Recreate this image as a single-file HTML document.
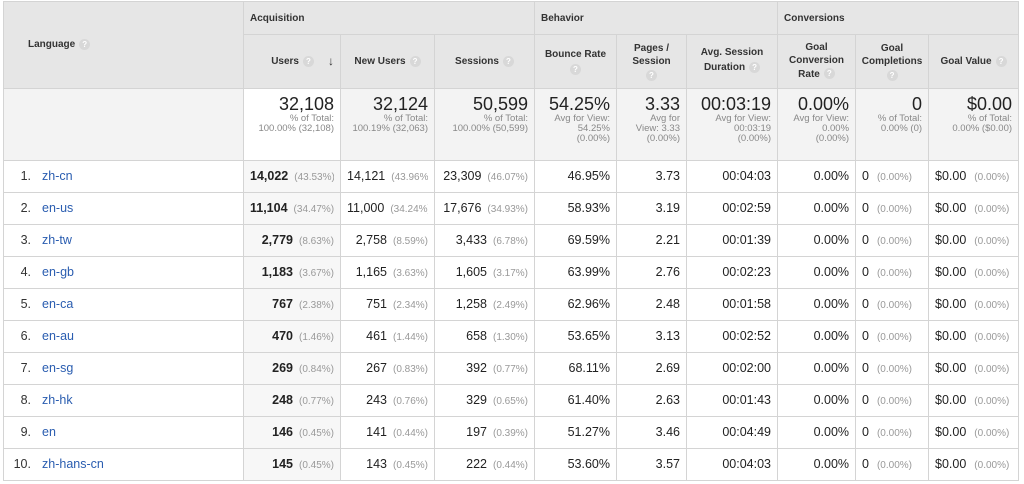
<!DOCTYPE html>
<html><head><meta charset="utf-8">
<style>
body{margin:0;width:1024px;height:484px;background:#fff;font-family:"Liberation Sans",Arial,sans-serif;color:#222;overflow:hidden}
table{position:absolute;left:3px;top:1px;border-collapse:collapse;table-layout:fixed;width:1016px}
td,th{border:1px solid #d4d4d4;padding:0 6px;font-size:12.5px;overflow:hidden;white-space:nowrap}
th{background:#e6e6e6;font-size:10px;font-weight:bold;color:#333}
.h1{height:32px;overflow:hidden;display:flex;align-items:center}
.h2{height:53px;overflow:hidden;display:flex;align-items:center;justify-content:center;text-align:center;white-space:normal;line-height:13px}
.q{display:inline-block;width:11px;height:11px;border-radius:50%;background:#d8d8d8;color:#fff;font-size:8px;line-height:11px;text-align:center;vertical-align:middle;margin-left:4px}
.tot{background:#f3f3f3;text-align:right;vertical-align:top}
.tot>div.w{height:71px;overflow:hidden;padding-top:5px;box-sizing:border-box}
.tot .big{font-size:18px;color:#222;line-height:20px}
.tot .sm{font-size:9.5px;color:#888;line-height:10px;white-space:normal}
.r td{text-align:right}
.r td>div{height:31px;line-height:31px;overflow:hidden}
.r td.lang{text-align:left;padding-left:0}
.num{display:inline-block;width:27px;text-align:right;color:#333}
.lk{color:#2a5db0;margin-left:11px}
.pc{color:#999;font-size:10px;margin-left:6px}
.uc{background:#f7f7f7}
.b{font-weight:bold}
</style></head><body>
<table>
<colgroup><col style="width:240px"><col style="width:97px"><col style="width:94px"><col style="width:100px"><col style="width:82px"><col style="width:70px"><col style="width:91px"><col style="width:78px"><col style="width:73px"><col style="width:90px"></colgroup>
<thead>
<tr>
<th rowspan="2" style="text-align:left;padding-left:24px">Language<span class="q">?</span></th>
<th colspan="3"><div class="h1">Acquisition</div></th>
<th colspan="3"><div class="h1">Behavior</div></th>
<th colspan="3"><div class="h1">Conversions</div></th>
</tr>
<tr>
<th><div class="h2" style="justify-content:flex-end">Users<span class="q">?</span><span style="margin-left:14px;font-size:12px">&#8595;</span></div></th>
<th><div class="h2">New Users<span class="q">?</span></div></th>
<th><div class="h2">Sessions<span class="q">?</span></div></th>
<th><div class="h2"><div>Bounce Rate<br><span class="q" style="margin:3px 0 0">?</span></div></div></th>
<th><div class="h2"><div>Pages /<br>Session<br><span class="q" style="margin:2px 0 0">?</span></div></div></th>
<th><div class="h2"><div>Avg. Session<br><span style="line-height:18px">Duration</span><span class="q">?</span></div></div></th>
<th><div class="h2"><div>Goal<br>Conversion<br><span style="line-height:16px">Rate</span><span class="q">?</span></div></div></th>
<th><div class="h2"><div>Goal<br>Completions<br><span class="q" style="margin:2px 0 0">?</span></div></div></th>
<th><div class="h2">Goal Value<span class="q">?</span></div></th>
</tr>
</thead>
<tbody id="tb">
<tr>
<td class="tot"><div class="w"></div></td>
<td class="tot" style="background:#fff"><div class="w"><div class="big">32,108</div><div class="sm">% of Total:<br>100.00% (32,108)</div></div></td>
<td class="tot"><div class="w"><div class="big">32,124</div><div class="sm">% of Total:<br>100.19% (32,063)</div></div></td>
<td class="tot"><div class="w"><div class="big">50,599</div><div class="sm">% of Total:<br>100.00% (50,599)</div></div></td>
<td class="tot"><div class="w"><div class="big">54.25%</div><div class="sm">Avg for View:<br>54.25%<br>(0.00%)</div></div></td>
<td class="tot"><div class="w"><div class="big">3.33</div><div class="sm">Avg for<br>View: 3.33<br>(0.00%)</div></div></td>
<td class="tot"><div class="w"><div class="big">00:03:19</div><div class="sm">Avg for View:<br>00:03:19<br>(0.00%)</div></div></td>
<td class="tot"><div class="w"><div class="big">0.00%</div><div class="sm">Avg for View:<br>0.00%<br>(0.00%)</div></div></td>
<td class="tot"><div class="w"><div class="big">0</div><div class="sm">% of Total:<br>0.00% (0)</div></div></td>
<td class="tot"><div class="w"><div class="big">$0.00</div><div class="sm">% of Total:<br>0.00% ($0.00)</div></div></td>
</tr>
</tbody>
</table>
<script>
const languages=["zh-cn","en-us","zh-tw","en-gb","en-ca","en-au","en-sg","zh-hk","en","zh-hans-cn"];
const users=["14,022","11,104","2,779","1,183","767","470","269","248","146","145"];
const usersPct=["43.53%","34.47%","8.63%","3.67%","2.38%","1.46%","0.84%","0.77%","0.45%","0.45%"];
const newUsers=["14,121","11,000","2,758","1,165","751","461","267","243","141","143"];
const newUsersPct=["43.96%","34.24%","8.59%","3.63%","2.34%","1.44%","0.83%","0.76%","0.44%","0.45%"];
const sessions=["23,309","17,676","3,433","1,605","1,258","658","392","329","197","222"];
const sessionsPct=["46.07%","34.93%","6.78%","3.17%","2.49%","1.30%","0.77%","0.65%","0.39%","0.44%"];
const bounce=["46.95%","58.93%","69.59%","63.99%","62.96%","53.65%","68.11%","61.40%","51.27%","53.60%"];
const pages=["3.73","3.19","2.21","2.76","2.48","3.13","2.69","2.63","3.46","3.57"];
const duration=["00:04:03","00:02:59","00:01:39","00:02:23","00:01:58","00:02:52","00:02:00","00:01:43","00:04:49","00:04:03"];
const tb=document.getElementById('tb');
languages.forEach((l,i)=>{
const tr=document.createElement('tr');tr.className='r';


tr.innerHTML=
'<td class="lang"><div><span class="num">'+(i+1)+'.</span><span class="lk">'+l+'</span></div></td>'+
'<td class="uc"><div><span class="b">'+users[i]+'</span><span class="pc">('+usersPct[i]+')</span></div></td>'+
'<td><div>'+newUsers[i]+'<span class="pc">('+newUsersPct[i]+')</span></div></td>'+
'<td><div>'+sessions[i]+'<span class="pc">('+sessionsPct[i]+')</span></div></td>'+
'<td><div>'+bounce[i]+'</div></td>'+
'<td><div>'+pages[i]+'</div></td>'+
'<td><div>'+duration[i]+'</div></td>'+
'<td><div>0.00%</div></td>'+
'<td style="text-align:left"><div>0<span class="pc" style="margin-left:8px">(0.00%)</span></div></td>'+
'<td style="text-align:left"><div>$0.00<span class="pc" style="margin-left:8px">(0.00%)</span></div></td>';
tb.appendChild(tr);
});
</script>
</body></html>
